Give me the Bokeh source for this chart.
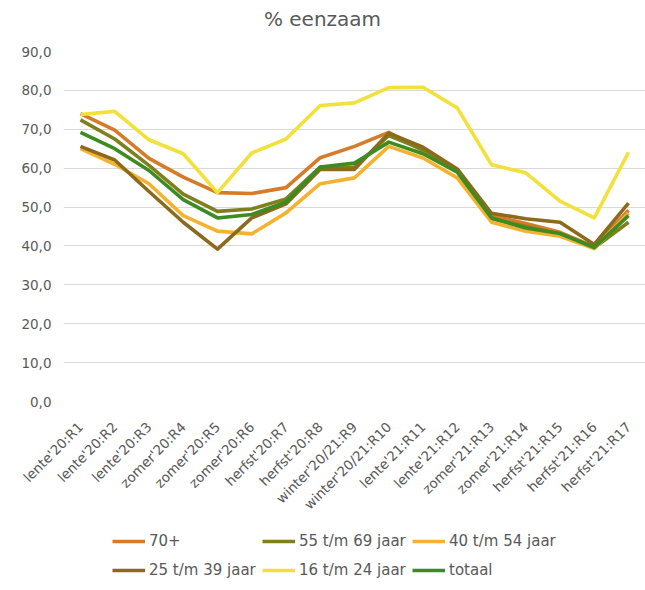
from bokeh.plotting import figure
from bokeh.layouts import column
from bokeh.models import (Range1d, FixedTicker, CustomJSTickFormatter, Legend, LegendItem,
                          ColumnDataSource, Label)
from bokeh.embed import file_html
from bokeh.resources import INLINE
import math

categories = ["lente'20:R1", "lente'20:R2", "lente'20:R3", "zomer'20:R4", "zomer'20:R5",
              "zomer'20:R6", "herfst'20:R7", "herfst'20:R8", "winter'20/21:R9",
              "winter'20/21:R10", "lente'21:R11", "lente'21:R12", "zomer'21:R13",
              "zomer'21:R14", "herfst'21:R15", "herfst'21:R16", "herfst'21:R17"]

s70plus = [74.0, 69.8, 62.5, 57.7, 53.7, 53.5, 55.0, 62.7, 65.6, 69.2, 64.5, 59.5, 47.8, 45.8, 43.5, 39.8, 49.2]
s55_69 = [72.4, 67.5, 60.7, 53.3, 48.9, 49.5, 52.1, 60.3, 60.2, 68.4, 64.8, 59.5, 47.0, 45.0, 43.0, 39.5, 46.1]
s40_54 = [65.0, 61.0, 56.0, 47.8, 43.8, 43.1, 48.5, 56.0, 57.5, 65.6, 62.6, 57.5, 46.1, 43.8, 42.5, 39.3, 48.5]
s25_39 = [65.6, 62.1, 54.0, 46.1, 39.2, 47.2, 50.8, 59.7, 59.7, 69.0, 65.4, 59.8, 48.4, 47.0, 46.1, 40.4, 51.0]
s16_24 = [73.8, 74.6, 67.3, 63.7, 53.7, 63.9, 67.5, 76.1, 76.8, 80.7, 80.8, 75.5, 60.9, 58.8, 51.5, 47.2, 64.1]
totaal = [69.2, 65.0, 59.4, 51.9, 47.2, 48.1, 51.3, 60.3, 61.3, 66.7, 63.7, 59.0, 47.2, 44.6, 43.2, 39.6, 47.8]

series_names = ["70+", "55 t/m 69 jaar", "40 t/m 54 jaar", "25 t/m 39 jaar", "16 t/m 24 jaar", "totaal"]
series_values = [s70plus, s55_69, s40_54, s25_39, s16_24, totaal]
colors = ["#D67B2A", "#7F801C", "#F5B22F", "#8C6A1C", "#F2E13A", "#3C8C22"]

y_ticks = [0, 10, 20, 30, 40, 50, 60, 70, 80, 90]
title_text = "% eenzaam"

FONT = "DejaVu Sans"
GREY = "#595959"
xs = list(range(len(categories)))


def strip(height):
    f = figure(width=645, height=height, output_backend="svg", toolbar_location=None,
               x_range=Range1d(0, 1), y_range=Range1d(0, 1),
               x_axis_type=None, y_axis_type=None,
               min_border_left=0, min_border_right=0, min_border_top=0, min_border_bottom=0)
    f.outline_line_color = None
    f.grid.visible = False
    return f


# title strip
tp = strip(43)
tp.add_layout(Label(x=259, y=25, x_units="screen", y_units="screen", text=title_text,
                    text_align="center", text_baseline="middle", text_font=FONT,
                    text_font_size="20px", text_color=GREY))

# main chart
p = figure(width=645, height=477, output_backend="svg", toolbar_location=None,
           x_range=Range1d(-0.496, 16.496), y_range=Range1d(0, 90),
           min_border_left=63, min_border_right=0, min_border_top=8, min_border_bottom=119)
p.outline_line_color = None
p.background_fill_color = "white"
p.border_fill_color = "white"

for name, vals, col in zip(series_names, series_values, colors):
    src = ColumnDataSource(dict(x=xs, y=vals))
    p.line("x", "y", source=src, line_color=col, line_width=3.6, line_join="round")

p.xaxis.ticker = FixedTicker(ticks=xs)
p.xaxis.major_label_overrides = {i: c for i, c in enumerate(categories)}
p.xaxis.major_label_orientation = math.pi / 4
p.xaxis.axis_line_color = None
p.xaxis.major_tick_line_color = None
p.xaxis.minor_tick_line_color = None
p.xaxis.major_label_text_font = FONT
p.xaxis.major_label_text_font_size = "13.5px"
p.xaxis.major_label_text_color = GREY
p.xaxis.major_label_standoff = 17

p.yaxis.ticker = FixedTicker(ticks=y_ticks)
p.yaxis.formatter = CustomJSTickFormatter(code="return tick.toFixed(1).replace('.', ',');")
p.yaxis.axis_line_color = None
p.yaxis.major_tick_line_color = None
p.yaxis.minor_tick_line_color = None
p.yaxis.major_label_text_font = FONT
p.yaxis.major_label_text_font_size = "13.5px"
p.yaxis.major_label_text_color = GREY
p.yaxis.major_label_standoff = 6

p.xgrid.grid_line_color = None
p.ygrid.ticker = FixedTicker(ticks=y_ticks)
p.ygrid.grid_line_color = "#D9D9D9"
p.ygrid.grid_line_width = 1.2

# legend strip (series drawn out of view so only their legend swatches show)
lp = strip(70)
lrs = []
for name, vals, col in zip(series_names, series_values, colors):
    lrs.append(lp.line(xs, vals, line_color=col, line_width=3.6))

cols = [[0, 3], [1, 4], [2, 5]]
xoffs = [49, 199, 349]
for idxs, xo in zip(cols, xoffs):
    items = [LegendItem(label=series_names[i], renderers=[lrs[i]]) for i in idxs]
    lg = Legend(items=items, location=(xo, 10), orientation="vertical",
                glyph_width=33, glyph_height=20, label_height=20, label_standoff=4,
                spacing=9, padding=0, margin=0, border_line_color=None,
                background_fill_alpha=0, label_text_font=FONT, label_text_font_size="15px",
                label_text_color=GREY)
    lp.add_layout(lg)

open("out.html", "w").write(file_html(column(tp, p, lp, spacing=0), INLINE))
